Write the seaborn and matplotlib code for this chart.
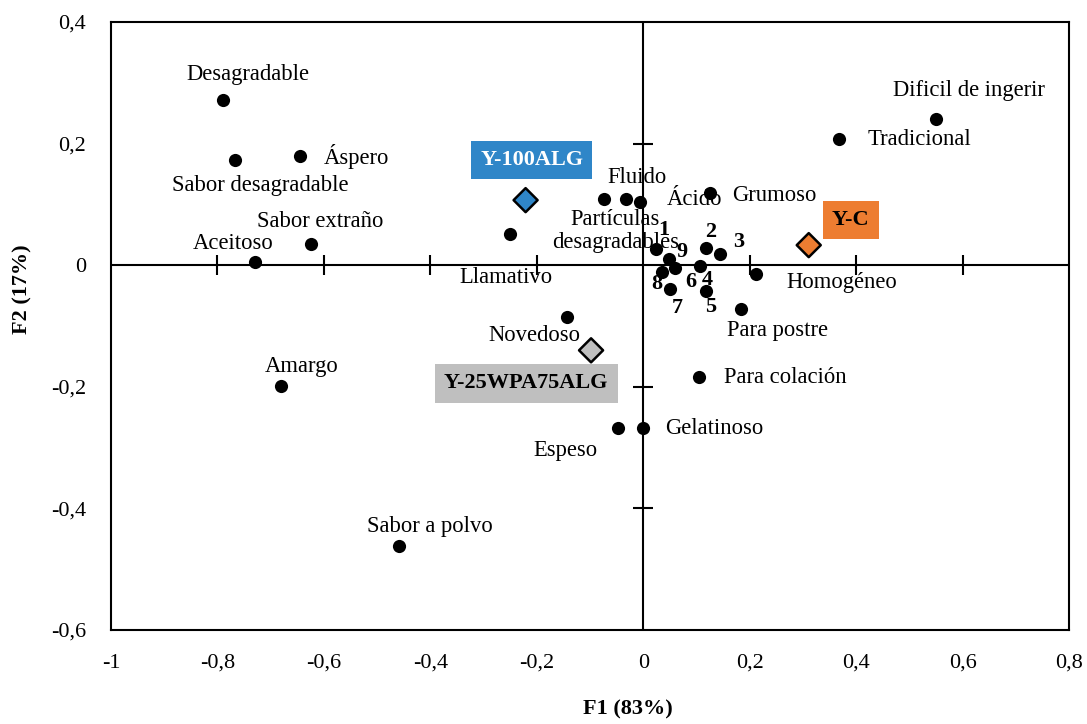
import numpy as np
import matplotlib
matplotlib.use("Agg")
import matplotlib.pyplot as plt
from matplotlib.ticker import FuncFormatter
import seaborn as sns

# attribute coordinates on the first two factors
attributes = ["Desagradable", "Sabor desagradable", "Áspero", "Sabor extraño", "Aceitoso",
              "Amargo", "Sabor a polvo", "Llamativo", "Novedoso", "Espeso", "Gelatinoso",
              "Para colación", "Para postre", "Homogéneo", "Tradicional", "Dificil de ingerir",
              "Grumoso", "Ácido", "Fluido", "Partículas\ndesagradables"]
attr_f1 = [-0.790, -0.767, -0.645, -0.625, -0.730, -0.681, -0.458, -0.250, -0.144, -0.047,
           0.000, 0.105, 0.184, 0.212, 0.368, 0.550, 0.126, -0.006, -0.032, -0.073]
attr_f2 = [0.271, 0.173, 0.179, 0.035, 0.005, -0.199, -0.462, 0.051, -0.086, -0.268,
           -0.268, -0.184, -0.072, -0.015, 0.207, 0.240, 0.118, 0.104, 0.109, 0.109]

# panelists
panel = ["1", "2", "3", "4", "5", "6", "7", "8", "9"]
panel_f1 = [0.024, 0.118, 0.144, 0.107, 0.118, 0.060, 0.051, 0.036, 0.049]
panel_f2 = [0.026, 0.028, 0.018, -0.002, -0.043, -0.005, -0.039, -0.012, 0.010]

# yogurt samples
samples = ["Y-100ALG", "Y-25WPA75ALG", "Y-C"]
sample_f1 = [-0.221, -0.098, 0.311]
sample_f2 = [0.107, -0.140, 0.033]
sample_colors = ["#2f86c8", "#bfbfbf", "#ed7d31"]
sample_text = ["white", "black", "black"]

# label offsets in pixels (dx, dy down, ha)
attr_off = {
    "Desagradable": (25, -26, "center"), "Sabor desagradable": (25, 25, "center"),
    "Áspero": (24, 0, "left"), "Sabor extraño": (10, -22, "center"),
    "Aceitoso": (-22, -19, "center"), "Amargo": (21, -20, "center"),
    "Sabor a polvo": (30, -20, "center"), "Llamativo": (-4, 43, "center"),
    "Novedoso": (-32, 18, "center"), "Espeso": (-53, 22, "center"),
    "Gelatinoso": (22, 0, "left"), "Para colación": (25, 0, "left"),
    "Para postre": (36, 22, "center"), "Homogéneo": (30, 8, "left"),
    "Tradicional": (28, 0, "left"), "Dificil de ingerir": (33, -29, "center"),
    "Grumoso": (22, 2, "left"), "Ácido": (27, -2, "left"),
    "Fluido": (11, -21, "center"), "Partículas\ndesagradables": (11, 32, "center"),
}
panel_off = [(8, -19), (5, -16), (19, -12), (7, 14), (5, 16), (16, 14), (7, 19), (-6, 12), (13, -7)]
sample_off = [(6, -40), (-65, 33), (42, -25)]

sns.set_style("white")
plt.rcParams["font.family"] = ["Liberation Serif", "DejaVu Serif"]
for k in ["text.color", "axes.labelcolor", "xtick.color", "ytick.color"]:
    plt.rcParams[k] = "black"

fig = plt.figure(figsize=(10.87, 7.24), dpi=100)
ax = fig.add_axes([111 / 1087, 1 - 630 / 724, 958 / 1087, 608 / 724])

ax.axhline(0, color="black", lw=1.5, zorder=1)
ax.axvline(0, color="black", lw=1.5, zorder=1)
xt = [-0.8, -0.6, -0.4, -0.2, 0.2, 0.4, 0.6]
yt = [0.2, -0.2, -0.4]
ax.plot(xt, np.zeros(len(xt)), ls="none", marker="|", ms=15, mew=1.5, color="black", zorder=1)
ax.plot(np.zeros(len(yt)), yt, ls="none", marker="_", ms=15, mew=1.5, color="black", zorder=1)

sns.scatterplot(x=attr_f1, y=attr_f2, color="black", s=90, linewidth=0, ax=ax, zorder=3)
sns.scatterplot(x=panel_f1, y=panel_f2, color="black", s=90, linewidth=0, ax=ax, zorder=3)
sns.scatterplot(x=sample_f1, y=sample_f2, hue=samples, palette=dict(zip(samples, sample_colors)),
                marker="D", s=150, edgecolor="black", linewidth=1.8, legend=False, ax=ax, zorder=4)

for name, x, y in zip(attributes, attr_f1, attr_f2):
    dx, dy, ha = attr_off[name]
    ax.annotate(name, (x, y), xytext=(dx, -dy), textcoords="offset pixels",
                ha=ha, va="center", fontsize=16.3, linespacing=1.15)

for name, x, y, (dx, dy) in zip(panel, panel_f1, panel_f2, panel_off):
    ax.annotate(name, (x, y), xytext=(dx, -dy), textcoords="offset pixels",
                ha="center", va="center", fontsize=16, fontweight="bold")

for name, x, y, c, tc, (dx, dy) in zip(samples, sample_f1, sample_f2, sample_colors, sample_text, sample_off):
    ax.annotate(name, (x, y), xytext=(dx, -dy), textcoords="offset pixels",
                ha="center", va="center", fontsize=16, fontweight="bold", color=tc,
                bbox=dict(boxstyle="square,pad=0.42", fc=c, ec="none"), zorder=5)

ax.set_xlim(-1, 0.8)
ax.set_ylim(-0.6, 0.4)
ax.set_xticks(np.arange(-1, 0.81, 0.2))
ax.set_yticks(np.arange(-0.6, 0.41, 0.2))


def comma(v, pos):
    v = round(v, 1) + 0.0
    return f"{v:g}".replace(".", ",")


ax.xaxis.set_major_formatter(FuncFormatter(comma))
ax.yaxis.set_major_formatter(FuncFormatter(comma))
ax.tick_params(length=0, labelsize=16)
ax.tick_params(axis="x", pad=17)
ax.tick_params(axis="y", pad=18)

for sp in ax.spines.values():
    sp.set_color("black")
    sp.set_linewidth(1.5)

ax.set_xlabel("F1 (83%)", fontsize=16, fontweight="bold")
ax.set_ylabel("F2 (17%)", fontsize=16, fontweight="bold")
ax.xaxis.set_label_coords(0.54, -0.115)
ax.yaxis.set_label_coords(-0.082, 0.56)

fig.savefig("out.png", dpi=100)
